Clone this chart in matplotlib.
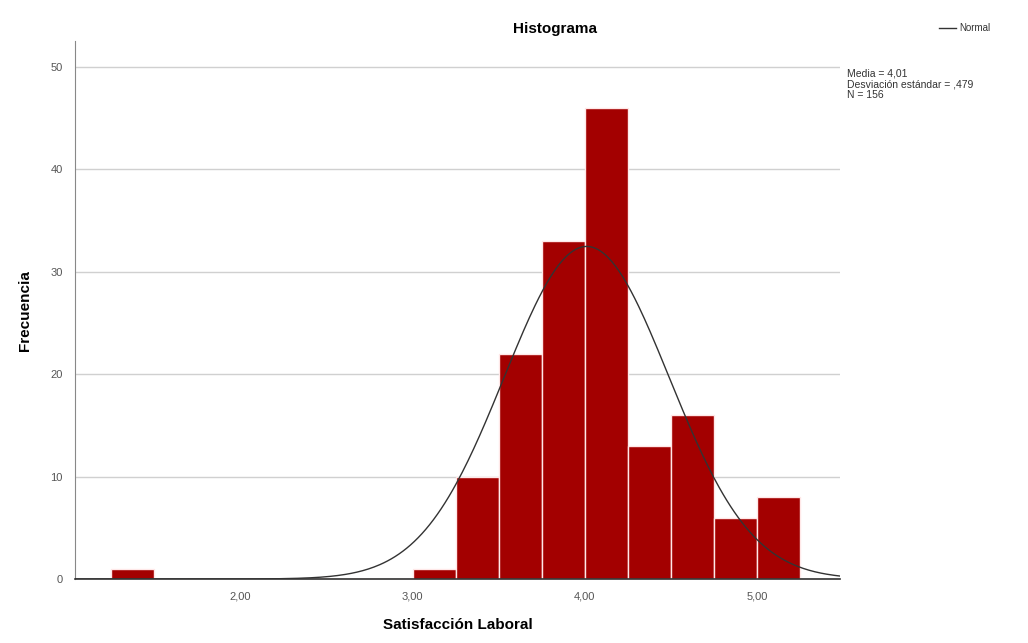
import numpy as np
import matplotlib
matplotlib.use('Agg')
import matplotlib.pyplot as plt

plt.rcParams['font.family'] = ['Liberation Sans', 'DejaVu Sans']

# histogram bins (lower edges) and frequencies
bin_edges = [1.25, 1.50, 1.75, 2.00, 2.25, 2.50, 2.75, 3.00, 3.25, 3.50,
             3.75, 4.00, 4.25, 4.50, 4.75, 5.00, 5.25]
counts = [1, 0, 0, 0, 0, 0, 0, 1, 10, 22, 33, 46, 13, 16, 6, 8]
media = 4.01
desv = 0.479
n = 156
x_ticks = [2.0, 3.0, 4.0, 5.0]
x_labels = ['2,00', '3,00', '4,00', '5,00']
y_ticks = [0, 10, 20, 30, 40, 50]

fig = plt.figure(figsize=(10.28, 6.43), dpi=100)
ax = fig.add_axes([0.073, 0.0995, 0.744, 0.836])

ax.set_axisbelow(True)
ax.yaxis.grid(True, color='#d0d0d0', linewidth=1)

widths = np.diff(bin_edges)
ax.bar(bin_edges[:-1], counts, width=widths, align='edge',
       color='#a30000', edgecolor='#ffe8e8', linewidth=1, zorder=2)

# normal curve
xs = np.linspace(1.04, 5.48, 400)
bw = 0.25
ys = n * bw / (desv * np.sqrt(2 * np.pi)) * np.exp(-0.5 * ((xs - media) / desv) ** 2)
ax.plot(xs, ys, color='#333333', linewidth=1, zorder=3)

ax.set_xlim(1.04, 5.48)
ax.set_ylim(0, 52.5)
ax.set_xticks(x_ticks)
ax.set_xticklabels(x_labels)
ax.set_yticks(y_ticks)
ax.tick_params(length=0, labelsize=8, labelcolor='#555555', pad=9)

for s in ['top', 'right']:
    ax.spines[s].set_visible(False)
ax.spines['left'].set_color('#888888')
ax.spines['bottom'].set_color('#333333')
ax.spines['bottom'].set_linewidth(1.2)

ax.set_xlabel('Satisfacción Laboral', fontsize=11, fontweight='bold', labelpad=12)
ax.set_ylabel('Frecuencia', fontsize=11, fontweight='bold', labelpad=13)

fig.text(0.54, 0.955, 'Histograma', fontsize=11, fontweight='bold', ha='center', va='center')

# legend
fig.add_artist(plt.Line2D([0.913, 0.93], [0.957, 0.957], color='#333333', linewidth=1))
fig.text(0.933, 0.957, 'Normal', fontsize=7, va='center', color='#333333')

fig.text(0.824, 0.893, 'Media = 4,01\nDesviación estándar = ,479\nN = 156',
         fontsize=7.5, va='top', ha='left', color='#333333', linespacing=1.05)

fig.savefig('out.png', dpi=100)
